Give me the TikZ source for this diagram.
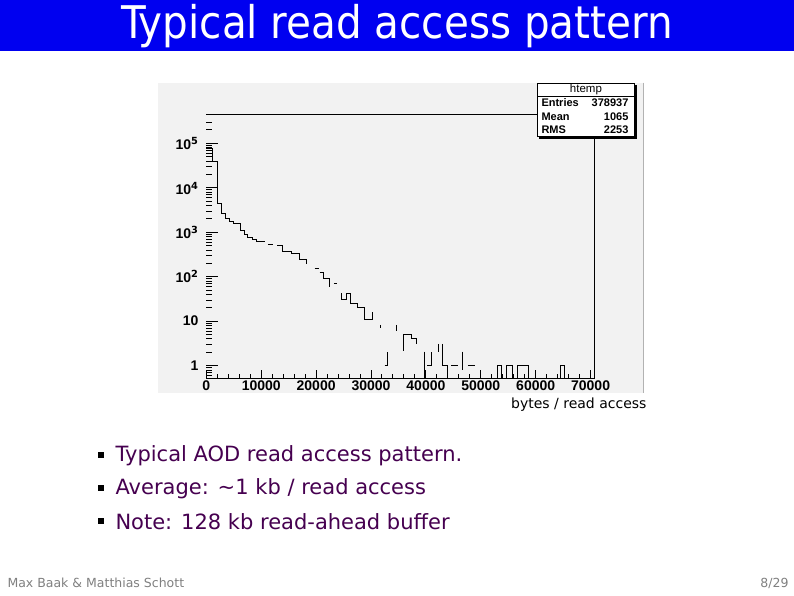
\documentclass[tikz,border=0pt]{standalone}
\usepackage{fontspec}
\setmainfont{DejaVu Sans}
\newfontfamily\condfont{DejaVu Sans Condensed}
\newfontfamily\plotfont{Liberation Sans}
\definecolor{titleblue}{RGB}{0,0,240}
\definecolor{bulletpurple}{RGB}{70,0,80}
\definecolor{plotbg}{RGB}{242,242,242}
\begin{document}
\begin{tikzpicture}[x=1pt,y=-1pt,
  bullettext/.style={anchor=west,text=bulletpurple,font=\fontsize{21}{24}\selectfont},
  smalllbl/.style={font=\plotfont\bfseries\fontsize{14}{15}\selectfont},
  statlbl/.style={inner sep=0pt,font=\plotfont\bfseries\fontsize{11}{12}\selectfont},
  hist/.style={line width=1pt}]
\useasboundingbox (0,0) rectangle (794,595);
\fill[white] (0,0) rectangle (794,595);
\fill[titleblue] (0,0) rectangle (794,51);
\node[text=white,font=\condfont\fontsize{45}{50}\selectfont] (title) at (397,26) {Typical read access pattern};
% plot
\begin{scope}[shift={(158,80)},x=0.3333pt,y=-0.3333pt]
\fill[plotbg] (0,8) rectangle (1455,940);
\draw[gray!60] (1455,8) -- (1455,940);
\draw[line width=1pt] (145,102) -- (1138,102);
\draw[line width=1pt] (1311,170) -- (1311,895);
\draw[line width=1pt] (145,895) -- (1311,895);
% y ticks
\foreach \d in {-1,...,5}{
  \foreach \k in {2,...,9}{
    \pgfmathsetmacro{\yy}{857-133.4*(\d+log10(\k))}
    \pgfmathparse{and(\yy>110,\yy<893)?1:0}
    \ifnum\pgfmathresult=1 \draw[line width=0.9pt] (145,\yy) -- (162,\yy);\fi
  }}
\foreach \d in {0,...,5}{\draw[line width=1pt] (145,857-133.4*\d) -- (180,857-133.4*\d);}
\node[smalllbl,anchor=east] (l0) at (132,857) {1};
\node[smalllbl,anchor=east] (l1) at (132,723) {10};
\node[smalllbl,anchor=east] (l2) at (132,590) {10$^{\mathbf 2}$};
\node[smalllbl,anchor=east] (l3) at (132,457) {10$^{\mathbf 3}$};
\node[smalllbl,anchor=east] (l4) at (132,325) {10$^{\mathbf 4}$};
\node[smalllbl,anchor=east] (l5) at (132,190) {10$^{\mathbf 5}$};
% x ticks
\foreach \i in {0,...,35}{\draw[line width=1pt] (145+32.94*\i,895) -- (145+32.94*\i,883);}
\node[smalllbl] at (145,918) {0};
\foreach \i in {1,...,7}{\draw[line width=1pt] (145+164.7*\i,895) -- (145+164.7*\i,870);
  \node[smalllbl] at (145+164.7*\i,918) {\i0000};}
\draw[line width=1pt] (145,895) -- (145,870);
% histogram
\draw[hist] (145,205)-|(165,245)-|(178,370)-|(190,400)-|(202,415)-|(215,425)-|(228,432)-|(248,452)-|(260,463)-|(270,472)-|(283,478)-|(296,485)--(320,485);
\draw[hist] (330,495)--(345,495);
\draw[hist] (358,497)-|(375,515)-|(400,522)-|(425,538)-|(445,553);
\draw[hist] (470,565)--(482,565);
\draw[hist] (485,578)-|(498,595)-|(515,622);
\draw[hist] (528,612)--(538,612);
\draw[hist] (552,640)|-(565,660)|-(578,640)|-(598,670)|-(620,683)|-(645,718)--(645,695);
\draw[hist] (668,735)--(668,745);
\draw[hist] (715,735)--(715,752);
\draw[hist] (680,857)-|(690,815);
\draw[hist] (738,812)|-(762,765)|-(775,775)--(775,792);
\draw[hist] (800,815)--(800,895);
\draw[hist] (808,857)-|(822,815);
\draw[hist] (843,792)--(843,815);
\draw[hist] (855,792)|-(868,857)--(868,895);
\draw[hist] (880,857)--(900,857);
\draw[hist] (915,815)--(915,870);
\draw[hist] (930,857)--(950,857);
\draw[hist] (1020,895)|-(1030,857)--(1030,895);
\draw[hist] (1045,895)|-(1065,857)--(1065,895);
\draw[hist] (1078,895)|-(1113,857)--(1113,895);
\draw[hist] (1207,895)|-(1220,857)--(1220,895);
% stats box
\fill[black] (1144,16) rectangle (1436,176);
\draw[line width=1pt,fill=white] (1138,10) rectangle (1430,170);
\draw[line width=1pt] (1138,48) -- (1430,48);
\node[inner sep=0pt,font=\plotfont\fontsize{11.5}{12}\selectfont] (ht) at (1284,29) {htemp};
\node[statlbl,anchor=west] (e1) at (1150,69) {Entries};
\node[statlbl,anchor=west] (e2) at (1150,109) {Mean};
\node[statlbl,anchor=west] (e3) at (1150,148) {RMS};
\node[statlbl,anchor=east] (v1) at (1412,69) {378937};
\node[statlbl,anchor=east] (v2) at (1412,109) {1065};
\node[statlbl,anchor=east] (v3) at (1412,148) {2253};
\end{scope}
\node[anchor=east,font=\fontsize{14}{16}\selectfont] (xl) at (650,405) {bytes / read access};
% bullets
\foreach \yy/\t [count=\n] in {456/{Typical AOD read access pattern.},489/{Average: \char`\~1 kb / read access},522/{Note: 128 kb read-ahead buffer}}{
  \fill[black] (98,\yy-4) rectangle (104,\yy+2);
  \node[bullettext] (b\n) at (112,\yy) {\t};}
\node[anchor=west,text=gray,font=\fontsize{12.5}{14}\selectfont] (foot) at (4,583) {Max Baak \& Matthias Schott};
\node[anchor=east,text=gray,font=\fontsize{12.5}{14}\selectfont] (page) at (792,583) {8/29};
\end{tikzpicture}
\end{document}
